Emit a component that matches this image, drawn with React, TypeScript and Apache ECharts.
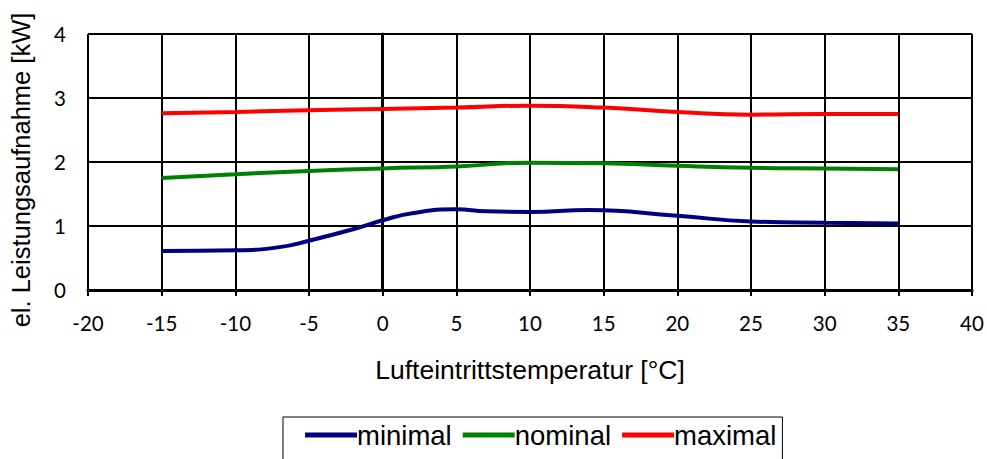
import React, { useEffect, useRef } from "react";
import * as echarts from "echarts";

const temps = [-15, -10, -5, 0, 5, 10, 15, 20, 25, 30, 35];
const minimalTemps = [-15, -10, -7, -5, -2, 0, 2, 5, 7, 10, 14, 20, 25, 30, 35];
const minimalValues = [0.61, 0.62, 0.67, 0.77, 0.95, 1.09, 1.2, 1.26, 1.23, 1.22, 1.25, 1.16, 1.07, 1.05, 1.04];
const nominalValues = [1.75, 1.81, 1.86, 1.9, 1.93, 1.99, 1.98, 1.94, 1.91, 1.9, 1.885];
const maximalValues = [2.76, 2.78, 2.81, 2.83, 2.85, 2.88, 2.85, 2.78, 2.74, 2.75, 2.75];
const seriesNames = ["minimal", "nominal", "maximal"];
const xTitle = "Lufteintrittstemperatur [°C]";
const yTitle = "el. Leistungsaufnahme [kW]";

const TITLE_FONT = "Liberation Sans";
const TICK_FONT = "Lato";

export default function App() {
  const ref = useRef<HTMLDivElement>(null);
  useEffect(() => {
    document.body.style.margin = "0";
    const chart = echarts.init(ref.current!, null, { renderer: "svg" });
    const zip = (xs: number[], ys: number[]) => xs.map((x, i) => [x, ys[i]]);
    chart.setOption({
      animation: false,
      backgroundColor: "#fff",
      grid: { left: 88, right: 15, top: 34, bottom: 169, containLabel: false },
      graphic: [
        {
          type: "text",
          x: 21,
          y: 170,
          rotation: Math.PI / 2,
          style: {
            text: yTitle,
            fontFamily: TITLE_FONT,
            fontSize: 25.5,
            fill: "#000",
            align: "center",
            verticalAlign: "middle",
          },
        },
      ],
      xAxis: {
        type: "value",
        min: -20,
        max: 40,
        interval: 5,
        name: xTitle,
        nameLocation: "middle",
        nameGap: 66,
        nameTextStyle: { fontFamily: TITLE_FONT, fontSize: 26.5, color: "#000" },
        axisLine: { lineStyle: { color: "#000", width: 3 } },
        axisTick: { show: true, inside: false, length: 6, lineStyle: { color: "#000", width: 2 } },
        axisLabel: { fontFamily: TICK_FONT, fontSize: 20.5, color: "#000", margin: 22 },
        splitLine: { show: true, lineStyle: { color: "#000", width: 2 } },
      },
      yAxis: {
        type: "value",
        min: 0,
        max: 4,
        interval: 1,
        axisLine: { show: true, lineStyle: { color: "#000", width: 3 } },
        axisTick: { show: true, inside: false, length: 6, lineStyle: { color: "#000", width: 2 } },
        axisLabel: { fontFamily: TICK_FONT, fontSize: 20.5, color: "#000", margin: 22 },
        splitLine: { show: true, lineStyle: { color: "#000", width: 2 } },
      },
      legend: {
        show: true,
        left: 283,
        top: 417,
        itemWidth: 52,
        itemHeight: 5,
        itemGap: 11,
        icon: "rect",
        padding: [4, 6, 30, 22],
        borderColor: "#000",
        borderWidth: 1,
        textStyle: { fontFamily: TITLE_FONT, fontSize: 27.5, color: "#000", padding: [0, 0, 0, -5] },
        data: seriesNames,
      },
      series: [
        {
          name: seriesNames[0],
          type: "line",
          smooth: true,
          showSymbol: false,
          color: "#000080",
          lineStyle: { width: 4, color: "#000080" },
          data: zip(minimalTemps, minimalValues),
        },
        {
          name: seriesNames[1],
          type: "line",
          smooth: true,
          showSymbol: false,
          color: "#008000",
          lineStyle: { width: 4, color: "#008000" },
          data: zip(temps, nominalValues),
        },
        {
          name: seriesNames[2],
          type: "line",
          smooth: true,
          showSymbol: false,
          color: "#FF0000",
          lineStyle: { width: 4, color: "#FF0000" },
          data: zip(temps, maximalValues),
        },
      ],
    });
    return () => chart.dispose();
  }, []);
  return <div ref={ref} style={{ width: 987, height: 459 }} />;
}
